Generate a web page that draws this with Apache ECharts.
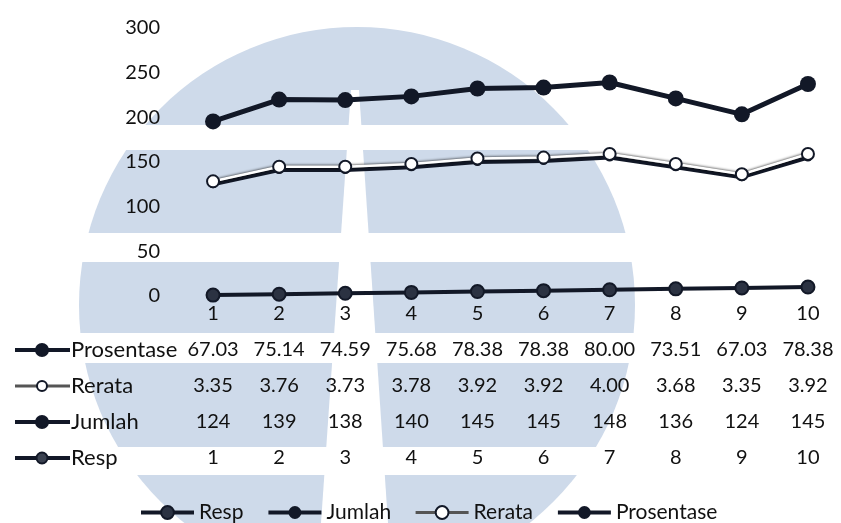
<!DOCTYPE html>
<html>
<head>
<meta charset="utf-8">
<script src="https://cdn.jsdelivr.net/npm/echarts@6.0.0/dist/echarts.min.js"></script>
<style>
  html, body { margin: 0; padding: 0; background: #fff; }
  #chart { width: 841px; height: 523px; }
</style>
</head>
<body>
<div id="chart"></div>
<script>
// data
const categories = ['1', '2', '3', '4', '5', '6', '7', '8', '9', '10'];
const resp = [1, 2, 3, 4, 5, 6, 7, 8, 9, 10];
const jumlah = [124, 139, 138, 140, 145, 145, 148, 136, 124, 145];
const rerata = [3.35, 3.76, 3.73, 3.78, 3.92, 3.92, 4.00, 3.68, 3.35, 3.92];
const prosentase = [67.03, 75.14, 74.59, 75.68, 78.38, 78.38, 80.00, 73.51, 67.03, 78.38];

const FONT = 'Lato';
const INK = '#121827';
const TXT = '#111111';
const WM = '#cedaea';

// data table rows (top to bottom), built from the arrays above
const tableRows = [
  { name: 'Prosentase', vals: prosentase.map(v => v.toFixed(2)) },
  { name: 'Rerata', vals: rerata.map(v => v.toFixed(2)) },
  { name: 'Jumlah', vals: jumlah.map(v => String(v)) },
  { name: 'Resp', vals: resp.map(v => String(v)) }
];

const rowGap = 36;

const labelStyle = { fontFamily: FONT, fontSize: 20, color: TXT };

const xAxes = [{
  type: 'category',
  data: categories,
  position: 'bottom',
  axisLine: { show: false },
  axisTick: { show: false },
  axisLabel: Object.assign({ margin: 8, interval: 0 }, labelStyle)
}];
tableRows.forEach((r, i) => {
  xAxes.push({
    type: 'category',
    data: r.vals,
    position: 'bottom',
    offset: rowGap * (i + 1),
    axisLine: { show: false },
    axisTick: { show: false },
    axisLabel: Object.assign({ margin: 8, interval: 0 }, labelStyle)
  });
});

// watermark behind the chart
const wm = [
  { type: 'circle', shape: { cx: 357, cy: 305, r: 278 }, style: { fill: WM }, z: -20 },
  { type: 'rect', shape: { x: 0, y: 125, width: 841, height: 25 }, style: { fill: '#fff' }, z: -19 },
  { type: 'rect', shape: { x: 0, y: 233, width: 841, height: 29 }, style: { fill: '#fff' }, z: -19 },
  { type: 'rect', shape: { x: 0, y: 333, width: 841, height: 30 }, style: { fill: '#fff' }, z: -19 },
  { type: 'rect', shape: { x: 0, y: 447, width: 841, height: 28 }, style: { fill: '#fff' }, z: -19 },
  { type: 'polygon', shape: { points: [[351, 90], [359, 90], [388, 523], [321, 523]] }, style: { fill: '#fff' }, z: -19 }
];

// row headers of the data table (icon + name)
const rowIcons = {
  Prosentase: { fill: INK, stroke: INK, r: 6, line: INK, w: 4 },
  Rerata: { fill: '#fff', stroke: INK, r: 5, line: '#555', w: 3 },
  Jumlah: { fill: INK, stroke: INK, r: 6, line: INK, w: 4 },
  Resp: { fill: '#3a4150', stroke: INK, r: 5.5, line: INK, w: 4 }
};
const headers = [];
tableRows.forEach((r, i) => {
  const cy = 314 + rowGap * (i + 1);
  const ic = rowIcons[r.name];
  headers.push({
    type: 'line', shape: { x1: 15, y1: cy, x2: 70, y2: cy },
    style: { stroke: ic.line, lineWidth: ic.w }
  });
  headers.push({
    type: 'circle', shape: { cx: 42, cy: cy, r: ic.r },
    style: { fill: ic.fill, stroke: ic.stroke, lineWidth: 2 }
  });
  headers.push({
    type: 'text', x: 71, y: cy,
    style: { text: r.name, fontSize: 22, fontFamily: FONT, fill: TXT, verticalAlign: 'middle' }
  });
});

const chart = echarts.init(document.getElementById('chart'), null, { renderer: 'canvas' });

chart.setOption({
  animation: false,
  backgroundColor: '#fff',
  textStyle: { fontFamily: FONT },
  grid: { left: 180, top: 28, width: 667, height: 268 },
  graphic: [
    { type: 'group', silent: true, z: -20, children: wm },
    { type: 'group', silent: true, children: headers }
  ],
  legend: {
    left: 134,
    top: 497,
    itemWidth: 53,
    itemHeight: 16,
    itemGap: 23,
    lineStyle: { width: 4 },
    textStyle: { fontFamily: FONT, fontSize: 21, color: TXT },
    data: [
      'Resp',
      'Jumlah',
      { name: 'Rerata', lineStyle: { color: '#555', width: 3 } },
      'Prosentase'
    ]
  },
  xAxis: xAxes,
  yAxis: {
    type: 'value',
    min: 0,
    max: 300,
    interval: 50,
    axisLine: { show: false },
    axisTick: { show: false },
    splitLine: { show: false },
    axisLabel: Object.assign({ margin: 20 }, labelStyle)
  },
  series: [
    {
      name: 'Resp', type: 'line', stack: 'total', data: resp,
      symbol: 'circle', symbolSize: 13,
      lineStyle: { color: INK, width: 4 },
      itemStyle: { color: '#2b3242', borderColor: INK, borderWidth: 2 }
    },
    {
      name: 'Jumlah', type: 'line', stack: 'total', data: jumlah,
      symbol: 'circle', symbolSize: 8,
      lineStyle: { color: INK, width: 4 },
      itemStyle: { color: INK }
    },
    {
      name: 'Rerata', type: 'line', stack: 'total', data: rerata,
      symbol: 'circle', symbolSize: 12,
      lineStyle: { color: '#ffffff', width: 2.5, shadowColor: '#000', shadowBlur: 3 },
      itemStyle: { color: '#ffffff', borderColor: INK, borderWidth: 2 }
    },
    {
      name: 'Prosentase', type: 'line', stack: 'total', data: prosentase,
      symbol: 'circle', symbolSize: 16,
      lineStyle: { color: INK, width: 5 },
      itemStyle: { color: INK }
    }
  ]
});
</script>
</body>
</html>
